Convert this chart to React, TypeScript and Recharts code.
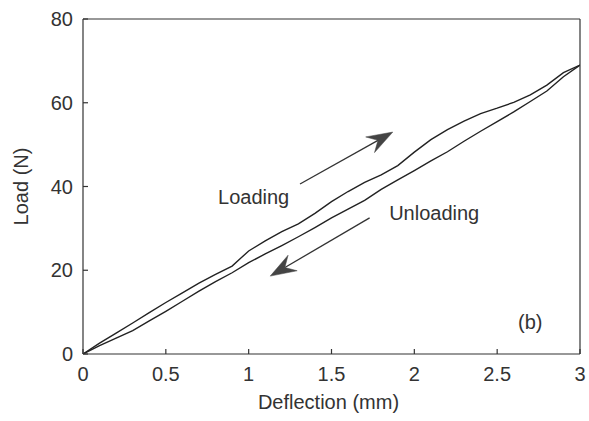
import React from 'react';
import { LineChart, Line, XAxis, YAxis, ReferenceLine, ReferenceDot } from 'recharts';

const loadingDeflection = [0, 0.1, 0.2, 0.3, 0.4, 0.5, 0.6, 0.7, 0.8, 0.9, 0.95, 1.0, 1.1, 1.2, 1.3, 1.4, 1.5, 1.6, 1.7, 1.8, 1.9, 2.0, 2.1, 2.2, 2.3, 2.4, 2.5, 2.6, 2.7, 2.8, 2.9, 3.0];
const loadingLoad = [0, 2.6, 5.0, 7.4, 9.9, 12.3, 14.6, 16.9, 19.0, 21.0, 22.8, 24.6, 27.0, 29.2, 31.1, 33.6, 36.4, 38.8, 41.0, 42.8, 45.0, 48.2, 51.2, 53.6, 55.6, 57.4, 58.7, 60.1, 61.9, 64.2, 67.2, 69.0];

const unloadingDeflection = [0, 0.1, 0.2, 0.3, 0.4, 0.5, 0.6, 0.7, 0.8, 0.9, 1.0, 1.1, 1.2, 1.3, 1.4, 1.5, 1.6, 1.7, 1.8, 1.9, 2.0, 2.1, 2.2, 2.3, 2.4, 2.5, 2.6, 2.7, 2.8, 2.9, 3.0];
const unloadingLoad = [0, 2.0, 3.8, 5.6, 7.9, 10.2, 12.6, 15.0, 17.3, 19.4, 21.8, 23.9, 25.9, 28.0, 30.2, 32.5, 34.6, 36.7, 39.3, 41.6, 43.8, 46.1, 48.3, 50.8, 53.2, 55.5, 57.8, 60.3, 62.8, 66.2, 69.0];

const xTicks = [0, 0.5, 1, 1.5, 2, 2.5, 3];
const yTicks = [0, 20, 40, 60, 80];

const loadingData = loadingDeflection.map((d, i) => ({ x: d, y: loadingLoad[i] }));
const unloadingData = unloadingDeflection.map((d, i) => ({ x: d, y: unloadingLoad[i] }));

// annotation anchors in data units
const loadingArrow = [{ x: 1.31, y: 40.6 }, { x: 1.87, y: 53.0 }];
const unloadingArrow = [{ x: 1.73, y: 32.5 }, { x: 1.13, y: 18.6 }];
const labels = [
  { x: 1.03, y: 37.4, text: 'Loading' },
  { x: 2.12, y: 33.6, text: 'Unloading' },
  { x: 2.70, y: 7.6, text: '(b)' },
];

const FONT = '"Liberation Sans", Arial, Helvetica, sans-serif';
const TEXT = '#333';
const AXIS = '#333';

const ArrowShape = (props: any) => {
  const { x1, y1, x2, y2 } = props;
  const dx = x2 - x1;
  const dy = y2 - y1;
  const len = Math.sqrt(dx * dx + dy * dy) || 1;
  const ux = dx / len;
  const uy = dy / len;
  const px = -uy;
  const py = ux;
  const headLen = 26;
  const half = 9;
  const notch = 17;
  const bx = x2 - ux * headLen;
  const by = y2 - uy * headLen;
  const nx = x2 - ux * notch;
  const ny = y2 - uy * notch;
  const pts = [
    [x2, y2],
    [bx + px * half, by + py * half],
    [nx, ny],
    [bx - px * half, by - py * half],
  ]
    .map((p) => p.join(','))
    .join(' ');
  return (
    <g>
      <line x1={x1} y1={y1} x2={nx} y2={ny} stroke="#333" strokeWidth={1.3} />
      <polygon points={pts} fill="#444" stroke="#444" strokeWidth={0.5} />
    </g>
  );
};

const makeTextShape = (text: string) => (props: any) => (
  <text
    x={props.cx}
    y={props.cy}
    textAnchor="middle"
    dominantBaseline="central"
    fontFamily={FONT}
    fontSize={20}
    fill={TEXT}
  >
    {text}
  </text>
);

export default function App() {
  return (
    <div style={{ position: 'absolute', left: 0, top: 0, width: 589, height: 421, background: '#fff' }}>
      <LineChart width={589} height={421} margin={{ top: 0, right: 0, left: 0, bottom: 0 }}>
        <XAxis
          xAxisId="bottom"
          type="number"
          dataKey="x"
          domain={[0, 3]}
          ticks={xTicks}
          allowDataOverflow
          orientation="bottom"
          height={67}
          tickSize={-5}
          tickMargin={18}
          stroke={AXIS}
          strokeWidth={1.2}
          tick={{ fill: TEXT, fontSize: 20, fontFamily: FONT }}
          label={{
            content: (p: any) => {
              const vb = p.viewBox;
              return (
                <text
                  x={vb.x + vb.width / 2 - 3}
                  y={vb.y + 55}
                  textAnchor="middle"
                  fontFamily={FONT}
                  fontSize={20}
                  fill={TEXT}
                >
                  Deflection (mm)
                </text>
              );
            },
          }}
        />
        <XAxis
          xAxisId="top"
          type="number"
          dataKey="x"
          domain={[0, 3]}
          ticks={xTicks}
          allowDataOverflow
          orientation="top"
          height={19}
          tickSize={-5}
          tick={false}
          stroke={AXIS}
          strokeWidth={1.2}
        />
        <YAxis
          yAxisId="left"
          type="number"
          domain={[0, 80]}
          ticks={yTicks}
          allowDataOverflow
          orientation="left"
          width={83}
          tickSize={-5}
          tickMargin={15}
          stroke={AXIS}
          strokeWidth={1.2}
          tick={{ fill: TEXT, fontSize: 20, fontFamily: FONT }}
          label={{
            content: (p: any) => {
              const vb = p.viewBox;
              const cx = 28;
              const cy = vb.y + vb.height / 2;
              return (
                <text
                  x={cx}
                  y={cy}
                  transform={`rotate(-90, ${cx}, ${cy})`}
                  textAnchor="middle"
                  fontFamily={FONT}
                  fontSize={20}
                  fill={TEXT}
                >
                  Load (N)
                </text>
              );
            },
          }}
        />
        <YAxis
          yAxisId="right"
          type="number"
          domain={[0, 80]}
          ticks={yTicks}
          allowDataOverflow
          orientation="right"
          width={9}
          tickSize={-5}
          tick={false}
          stroke={AXIS}
          strokeWidth={1.2}
        />
        <Line
          xAxisId="bottom"
          yAxisId="left"
          data={loadingData}
          dataKey="y"
          type="linear"
          stroke="#222"
          strokeWidth={1.4}
          dot={false}
          isAnimationActive={false}
        />
        <Line
          xAxisId="bottom"
          yAxisId="left"
          data={unloadingData}
          dataKey="y"
          type="linear"
          stroke="#222"
          strokeWidth={1.4}
          dot={false}
          isAnimationActive={false}
        />
        <ReferenceLine
          xAxisId="bottom"
          yAxisId="left"
          segment={loadingArrow}
          shape={ArrowShape}
        />
        <ReferenceLine
          xAxisId="bottom"
          yAxisId="left"
          segment={unloadingArrow}
          shape={ArrowShape}
        />
        {labels.map((l) => (
          <ReferenceDot
            key={l.text}
            xAxisId="bottom"
            yAxisId="left"
            x={l.x}
            y={l.y}
            r={0}
            shape={makeTextShape(l.text)}
          />
        ))}
      </LineChart>
    </div>
  );
}
